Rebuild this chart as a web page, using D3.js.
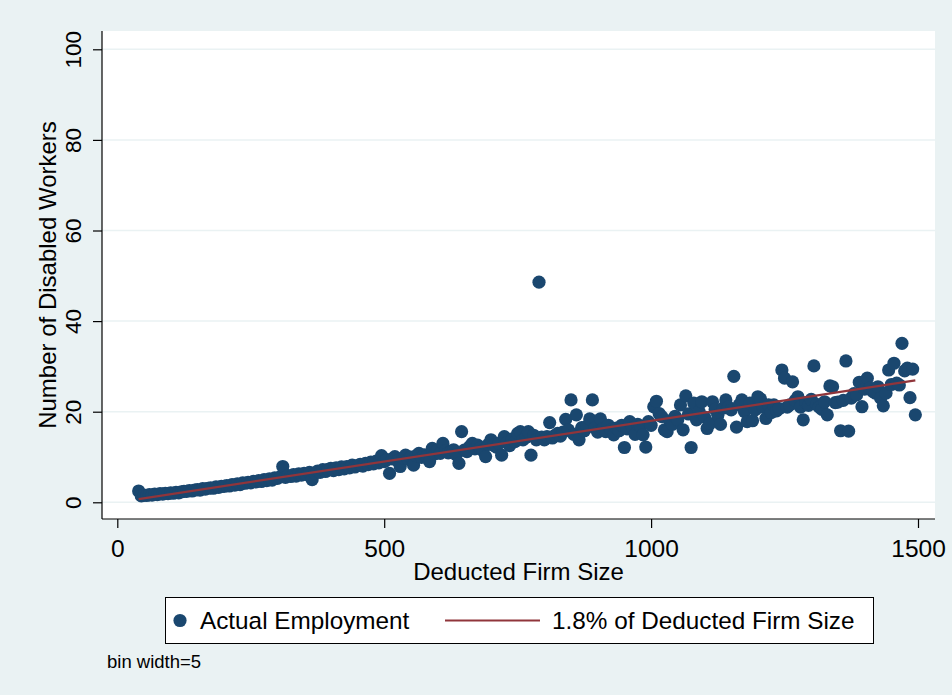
<!DOCTYPE html>
<html>
<head>
<meta charset="utf-8">
<script src="https://cdn.jsdelivr.net/npm/d3@7"></script>
<style>
  html, body { margin: 0; padding: 0; background: #EAF2F3; }
  svg { display: block; font-family: "Liberation Sans", Arial, Helvetica, sans-serif; }
</style>
</head>
<body>
<svg id="chart" width="952" height="695"></svg>
<script>
// Binned firm data: [deducted firm size (bin centre), mean number of disabled workers]
const binnedPoints = [
  [40,2.5],[45,1.4],[50,1.6],[55,1.5],[60,1.7],[65,1.6],[70,1.8],[75,1.7],[80,1.9],[85,1.8],
  [90,2.0],[95,1.9],[100,2.1],[105,2.0],[110,2.2],[115,2.1],[120,2.3],[125,2.4],[130,2.4],[135,2.6],
  [140,2.5],[145,2.7],[150,2.8],[155,2.7],[160,3.0],[165,2.9],[170,3.1],[175,3.2],[180,3.1],[185,3.4],
  [190,3.3],[195,3.5],[200,3.5],[205,3.7],[210,3.6],[215,3.9],[220,3.8],[225,4.1],[230,3.9],[235,4.3],
  [240,4.2],[245,4.4],[250,4.3],[255,4.6],[260,4.5],[265,4.8],[270,4.6],[275,5.0],[280,4.8],[285,5.2],
  [290,4.9],[295,5.4],
  [300,5.3],[305,5.6],[310,7.9],[315,5.5],[320,5.9],[325,5.7],[330,6.1],[335,5.8],[340,6.3],[345,6.0],
  [350,6.4],[355,6.1],[360,6.6],[365,5.0],[370,6.4],[375,6.9],[380,6.6],[385,7.2],[390,6.8],[395,7.3],
  [400,7.5],[405,7.0],[410,7.6],[415,7.2],[420,7.8],[425,7.4],[430,7.9],[435,7.6],[440,8.2],[445,7.8],
  [450,8.1],[455,8.4],[460,8.0],[465,8.6],[470,8.3],[475,8.9],[480,8.5],[485,9.1],[490,8.7],[495,10.3],
  [500,9.0],[505,9.4],[510,6.4],[515,9.6],[520,10.1],[525,9.2],[530,7.9],[535,9.8],[540,10.4],[545,9.5],
  [550,10.0],[555,8.2],[560,10.3],[565,10.8],[570,9.9],[575,10.5],[580,10.2],[585,9.0],[590,11.9],[595,10.7],
  [600,11.5],[605,10.8],[610,13.0],[615,11.4],[620,10.9],[625,11.2],[630,11.6],[635,10.5],[640,8.6],[645,15.6],
  [650,11.5],[655,11.2],[660,12.3],[665,13.0],[670,11.8],[675,12.6],[680,12.0],[685,11.4],[690,10.1],[695,12.8],
  [700,13.8],[705,12.6],[710,12.2],[715,13.0],[720,10.4],[725,14.5],[730,13.2],[735,12.5],[740,14.0],[745,13.4],
  [750,15.2],[755,15.6],[760,13.8],[765,14.3],[770,15.6],[775,10.4],[780,14.8],[785,13.8],[790,48.6],[795,14.4],
  [800,13.8],[805,14.5],[810,17.6],[815,14.2],[820,14.8],[825,15.2],[830,14.6],[835,15.5],[840,18.3],[845,16.0],
  [850,22.6],[855,15.0],[860,19.3],[865,13.8],[870,16.5],[875,15.8],[880,16.8],[885,18.4],[890,22.6],[895,16.4],
  [900,15.5],[905,18.4],[910,16.2],[915,15.6],[920,17.0],[925,16.0],[930,14.9],[935,16.4],[940,15.8],[945,17.0],
  [950,12.1],[955,16.2],[960,17.8],[965,16.5],[970,15.0],[975,17.2],[980,16.8],[985,14.9],[990,12.2],[995,17.8],
  [1000,17.0],[1005,21.1],[1010,22.3],[1015,19.6],[1020,18.9],[1025,16.0],[1030,15.6],[1035,18.0],[1040,17.2],[1045,19.0],
  [1050,18.2],[1055,21.5],[1060,16.0],[1065,23.5],[1070,19.5],[1075,12.1],[1080,21.9],[1085,18.2],[1090,20.0],[1095,22.2],
  [1100,18.8],[1105,16.3],[1110,17.4],[1115,22.2],[1120,20.5],[1125,19.2],[1130,17.2],[1135,20.8],[1140,22.6],[1145,21.0],
  [1150,20.4],[1155,27.8],[1160,16.6],[1165,21.5],[1170,22.6],[1175,20.0],[1180,17.8],[1185,21.9],[1190,18.0],[1195,20.4],
  [1200,23.3],[1205,22.8],[1210,21.0],[1215,18.5],[1220,21.5],[1225,19.8],[1230,21.5],[1235,20.2],[1240,20.7],[1245,29.2],
  [1250,27.4],[1255,21.0],[1260,21.5],[1265,26.6],[1270,22.5],[1275,23.3],[1280,21.0],[1285,18.2],[1290,22.0],[1295,21.4],
  [1300,22.7],[1305,30.1],[1310,21.6],[1315,21.0],[1320,20.5],[1325,22.2],[1330,19.3],[1335,25.7],[1340,25.5],[1345,22.0],
  [1350,22.1],[1355,15.8],[1360,22.5],[1365,31.2],[1370,15.7],[1375,23.0],[1380,24.0],[1385,23.7],[1390,26.5],[1395,21.1],
  [1400,25.0],[1405,27.4],[1410,25.2],[1415,24.5],[1420,24.1],[1425,25.5],[1430,23.0],[1435,21.3],[1440,24.1],[1445,29.2],
  [1450,26.0],[1455,30.7],[1460,26.3],[1465,25.9],[1470,35.1],[1475,29.0],[1480,29.6],[1485,23.1],[1490,29.4],[1495,19.3]
];

// Reference line: 1.8% of deducted firm size over the observed range
const quotaRate = 0.018;
const quotaRange = [40, 1495];

const xTicks = [0, 500, 1000, 1500];
const yTicks = [0, 20, 40, 60, 80, 100];
const xTitle = "Deducted Firm Size";
const yTitle = "Number of Disabled Workers";
const legendLabels = ["Actual Employment", "1.8% of Deducted Firm Size"];
const noteText = "bin width=5";

const navy = "#1A476F";
const maroon = "#90353B";
const gridColor = "#EAF2F3";

const svg = d3.select("#chart");
const plot = { left: 102, right: 935, top: 31, bottom: 519 };

const x = d3.scaleLinear().domain([0, 1500]).range([117.3, 918]);
const y = d3.scaleLinear().domain([0, 100]).range([502.3, 49.3]);

// page background and white plot region
svg.append("rect").attr("width", 952).attr("height", 695).attr("fill", "#EAF2F3");
svg.append("rect")
  .attr("x", plot.left).attr("y", plot.top)
  .attr("width", plot.right - plot.left).attr("height", plot.bottom - plot.top)
  .attr("fill", "#ffffff");

// horizontal grid lines
svg.append("g").selectAll("line").data(yTicks).join("line")
  .attr("x1", plot.left).attr("x2", plot.right)
  .attr("y1", d => y(d)).attr("y2", d => y(d))
  .attr("stroke", gridColor).attr("stroke-width", 1.5);

// scatter of binned means
svg.append("g").selectAll("circle").data(binnedPoints).join("circle")
  .attr("cx", d => x(d[0])).attr("cy", d => y(d[1]))
  .attr("r", 6.6).attr("fill", navy);

// 1.8% quota line
const quotaLine = quotaRange.map(v => [v, v * quotaRate]);
svg.append("path")
  .datum(quotaLine)
  .attr("d", d3.line().x(d => x(d[0])).y(d => y(d[1])))
  .attr("fill", "none").attr("stroke", maroon).attr("stroke-width", 2.2);

// axes
const xAxis = svg.append("g")
  .attr("transform", `translate(0,${plot.bottom})`)
  .call(d3.axisBottom(x).tickValues(xTicks).tickFormat(d3.format("d"))
        .tickSize(9).tickSizeOuter(0).tickPadding(12));
xAxis.select(".domain").remove();
xAxis.selectAll("line").attr("stroke", "#000").attr("stroke-width", 1.2);
xAxis.selectAll("text").attr("font-size", 24.5).attr("fill", "#000")
  .attr("font-family", '"Liberation Sans", Arial, sans-serif');

const yAxis = svg.append("g")
  .attr("transform", `translate(${plot.left},0)`)
  .call(d3.axisLeft(y).tickValues(yTicks).tickFormat(d3.format("d"))
        .tickSize(9).tickSizeOuter(0));
yAxis.select(".domain").remove();
yAxis.selectAll("line").attr("stroke", "#000").attr("stroke-width", 1.2);
yAxis.selectAll("text")
  .attr("x", null).attr("dy", "0.35em")
  .attr("text-anchor", "middle")
  .attr("transform", "translate(-29,0) rotate(-90)")
  .attr("font-size", 22.5).attr("fill", "#000")
  .attr("font-family", '"Liberation Sans", Arial, sans-serif');

// axis lines
svg.append("line").attr("x1", plot.left).attr("x2", plot.left)
  .attr("y1", plot.top).attr("y2", plot.bottom)
  .attr("stroke", "#000").attr("stroke-width", 1.2);
svg.append("line").attr("x1", plot.left).attr("x2", plot.right)
  .attr("y1", plot.bottom).attr("y2", plot.bottom)
  .attr("stroke", "#000").attr("stroke-width", 1.2);

// axis titles
svg.append("text")
  .attr("x", (plot.left + plot.right) / 2).attr("y", 580)
  .attr("text-anchor", "middle").attr("font-size", 24).attr("fill", "#000")
  .text(xTitle);
svg.append("text")
  .attr("transform", `translate(48,${(plot.top + plot.bottom) / 2}) rotate(-90)`)
  .attr("dy", "0.35em")
  .attr("text-anchor", "middle").attr("font-size", 24).attr("fill", "#000")
  .text(yTitle);

// legend
const legend = svg.append("g");
legend.append("rect")
  .attr("x", 165.5).attr("y", 597.5).attr("width", 708).attr("height", 46)
  .attr("fill", "#ffffff").attr("stroke", "#000").attr("stroke-width", 1);
legend.append("circle").attr("cx", 180).attr("cy", 620.5).attr("r", 6.6).attr("fill", navy);
legend.append("text").attr("x", 200).attr("y", 620.5).attr("dy", "0.35em")
  .attr("font-size", 24.3).attr("fill", "#000").text(legendLabels[0]);
legend.append("line").attr("x1", 445).attr("x2", 540).attr("y1", 620.5).attr("y2", 620.5)
  .attr("stroke", maroon).attr("stroke-width", 2.2);
legend.append("text").attr("x", 552).attr("y", 620.5).attr("dy", "0.35em")
  .attr("font-size", 24.3).attr("fill", "#000").text(legendLabels[1]);

// note
svg.append("text").attr("x", 107).attr("y", 668)
  .attr("font-size", 18.5).attr("fill", "#000").text(noteText);
</script>
</body>
</html>
